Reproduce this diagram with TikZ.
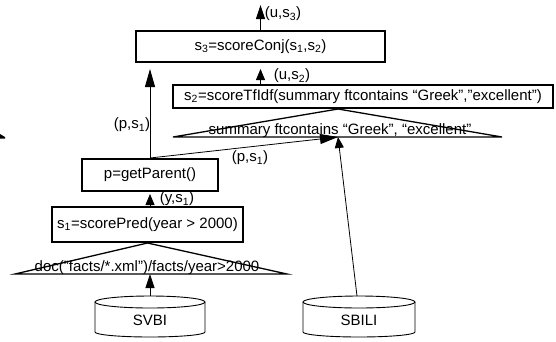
\documentclass[tikz,border=0pt]{standalone}
\usepackage{fontspec}
\setmainfont{Liberation Sans}
\usetikzlibrary{arrows.meta,calc}
\begin{document}
\begin{tikzpicture}[x=1pt,y=-1pt,
  txt/.style={font=\fontsize{15}{18}\selectfont},
  box/.style={draw, line width=2pt, inner sep=0pt, txt},
  lbl/.style={inner sep=0pt, txt},
  tri/.style={line width=1.3pt},
  shaft/.style={line width=0.8pt},
  cyl/.style={line width=0.9pt},
  big/.style={-{Triangle[length=18pt,width=10pt]}},
  mid/.style={-{Triangle[length=14pt,width=9pt]}},
  small/.style={-{Triangle[length=11pt,width=9pt]}}]
\useasboundingbox (0,0) rectangle (556,341);
% boxes
\node[box, minimum width=249pt, minimum height=31pt] (s3) at (260.5,46.5) {s\textsubscript{3}=scoreConj(s\textsubscript{1},s\textsubscript{2})};
\node[box, minimum width=380pt, minimum height=23pt] (s2) at (363,96.5) {s\textsubscript{2}=scoreTfIdf(summary ftcontains “Greek”,”excellent”)};
\node[box, minimum width=136pt, minimum height=32pt] (p) at (150,175) {p=getParent()};
\node[box, minimum width=191pt, minimum height=35pt] (s1) at (147.5,224.5) {s\textsubscript{1}=scorePred(year > 2000)};
% triangle 1
\coordinate (t1l) at (15,274);
\coordinate (t1r) at (287,274);
\coordinate (t1m) at (150,274);
\draw[tri] (t1l) -- (s1.south) -- (t1r) -- cycle;
\node[lbl, anchor=base] (q1) at (147,271) {doc("facts/*.xml")/facts/year>2000};
% triangle 2
\coordinate (t2a) at (338,109);
\coordinate (t2l) at (173,137);
\coordinate (t2r) at (502,137);
\coordinate (t2m) at (338,137);
\draw[tri] (t2l) -- (t2a) -- (t2r) -- cycle;
\node[lbl, anchor=base] (q2) at (340,134) {summary ftcontains “Greek”, “excellent”};
% cylinders
\draw[cyl] (95,302) -- (95,332) arc[start angle=180, end angle=360, x radius=55pt, y radius=5pt] -- (205,302);
\draw[cyl] (150,302) ellipse[x radius=55pt, y radius=6pt];
\node[lbl] (svbi) at (150,320) {SVBI};
\coordinate (svbitop) at (150,296);
\draw[cyl] (303,302) -- (303,332) arc[start angle=180, end angle=360, x radius=56pt, y radius=5pt] -- (415,302);
\draw[cyl] (359,302) ellipse[x radius=56pt, y radius=6pt];
\node[lbl] (sbili) at (359,320) {SBILI};
\coordinate (sbilitop) at (357,296);
% arrows
\coordinate (out) at (260.5,5);
\draw[shaft, mid] (s3.north) -- (out);
\draw[shaft, small] (s2.north -| s3.south) -- ($(s3.south)+(0,6)$);
\draw[shaft, big] (p.north) -- ($(p.north |- s3.south)+(0,6)$);
\draw[shaft, big] (p.north) -- (t2m);
\draw[shaft, small] (sbilitop) -- (t2m);
\draw[shaft, small] (s1.north -| p.south) -- ($(p.south)+(0,2)$);
\draw[shaft, mid] (svbitop) -- (t1m);
% labels
\node[lbl] (l1) at (283,14) {(u,s\textsubscript{3})};
\node[lbl] (l2) at (292,76) {(u,s\textsubscript{2})};
\node[lbl] (l3) at (132,125) {(p,s\textsubscript{1})};
\node[lbl] (l4) at (250,158) {(p,s\textsubscript{1})};
\node[lbl] (l5) at (177,199) {(y,s\textsubscript{1})};
% stray mark at left edge
\fill (0,134) -- (5,137) -- (5,138.5) -- (0,138.5) -- cycle;
\end{tikzpicture}
\end{document}
